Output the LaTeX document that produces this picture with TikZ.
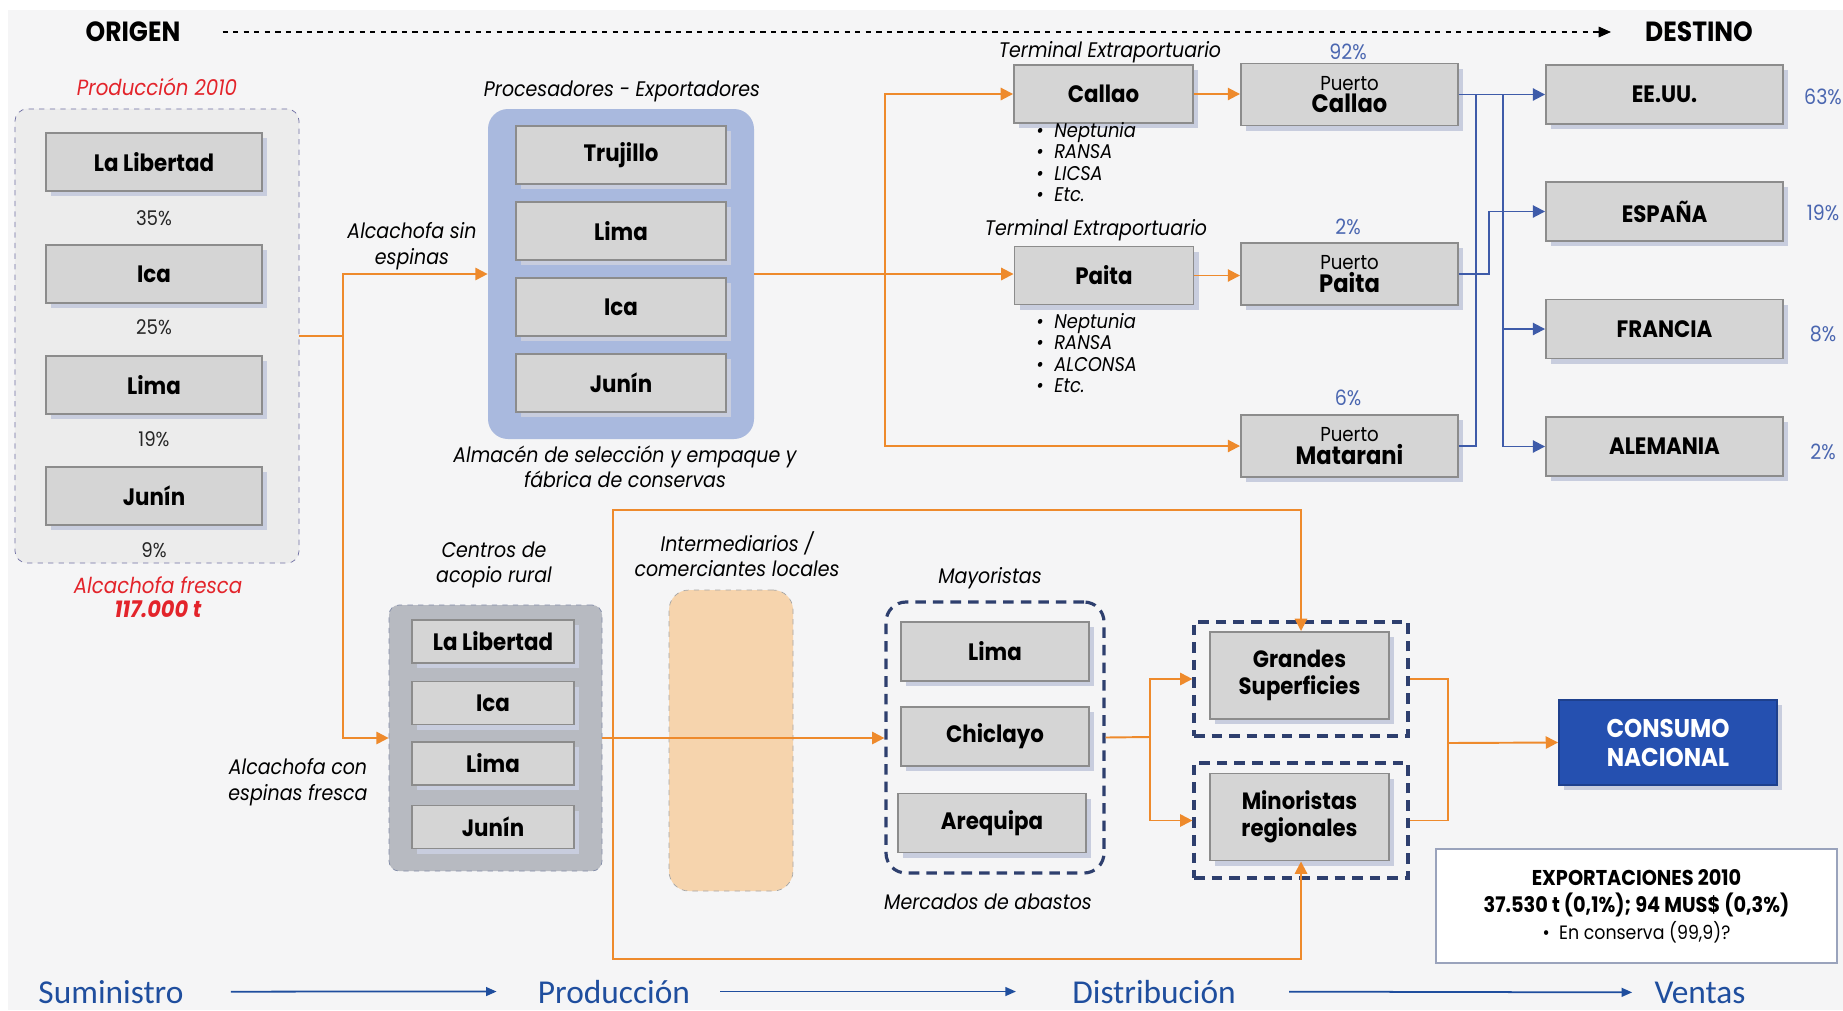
\documentclass[tikz,border=0pt]{standalone}
\usepackage{fontspec}
\setmainfont{Poppins}[FakeStretch=0.9]
\newfontfamily\stagefont{Carlito}
\usepackage{tikz}
\usepackage{xcolor}
\usetikzlibrary{positioning, arrows.meta, shadows, calc}

\definecolor{bggray}{HTML}{F5F5F6}
\definecolor{boxfill}{HTML}{D5D5D5}
\definecolor{boxline}{HTML}{8C8C8C}
\definecolor{shadowblue}{HTML}{C8CDDE}
\definecolor{orng}{HTML}{EE8A2C}
\definecolor{lblue}{HTML}{3E5BA9}
\definecolor{navy}{HTML}{2E3F6E}
\definecolor{procfill}{HTML}{A9B9DE}
\definecolor{cenfill}{HTML}{B7BAC1}
\definecolor{peach}{HTML}{F6D4AD}
\definecolor{consumo}{HTML}{2550B0}
\definecolor{redlbl}{HTML}{E3242B}
\definecolor{pctblue}{HTML}{4A66B0}
\definecolor{stageblue}{HTML}{1F4E9E}
\definecolor{exline}{HTML}{9AA3BC}

\begin{document}
\begin{tikzpicture}[
  x=0.2mm, y=-0.2mm,
  >=Stealth,
  box/.style={draw=boxline, line width=1.1pt, fill=boxfill, font=\fontsize{13.5}{15}\selectfont\bfseries, align=center, inner sep=1pt,
    drop shadow={shadow xshift=1mm, shadow yshift=-1mm, fill=shadowblue, opacity=1}},
  lft/.style={box, minimum width=43.2mm, minimum height=11.6mm},
  prc/.style={box, minimum width=42mm, minimum height=11.6mm},
  trm/.style={box, minimum width=35.8mm, minimum height=11.6mm},
  prt/.style={box, minimum width=43.4mm, minimum height=12.4mm},
  dst/.style={box, minimum width=47.4mm, minimum height=11.8mm},
  cen/.style={box, minimum width=32.4mm, minimum height=8.6mm},
  may/.style={box, minimum width=37.6mm, minimum height=11.8mm},
  ret/.style={box, minimum width=35.8mm, minimum height=17.4mm, font=\fontsize{13.4}{15.4}\selectfont\bfseries},
  grp/.style={inner sep=0pt},
  cpt/.style={font=\fontsize{12}{14.5}\selectfont\itshape, align=center},
  pct/.style={font=\fontsize{11.5}{12}\selectfont, text=black!85},
  bpct/.style={font=\fontsize{12}{12}\selectfont, text=pctblue},
  redcpt/.style={font=\fontsize{12.5}{14}\selectfont\itshape, text=redlbl, align=center},
  bullets/.style={font=\fontsize{11.3}{12.2}\selectfont\itshape, align=left, anchor=north west, inner sep=0pt},
  oline/.style={draw=orng, line width=1.1pt},
  oarrow/.style={oline, -{Triangle[length=7pt, width=7pt]}},
  bline/.style={draw=lblue, line width=1.1pt},
  barrow/.style={bline, -{Triangle[length=7pt, width=7pt]}},
  stage/.style={font=\stagefont\fontsize{19}{21}\selectfont, text=stageblue, inner sep=0pt, anchor=base},
  stagearrow/.style={draw=stageblue, line width=1pt, -{Triangle[length=6pt, width=5pt]}}
]
\useasboundingbox (0,0) rectangle (1843,1010);
\fill[bggray] (8,10) rectangle (1843,1010);

% Header
\node[font=\fontsize{15.8}{17}\selectfont\bfseries] (origen) at (133,32) {ORIGEN};
\node[font=\fontsize{15.8}{17}\selectfont\bfseries] (destino) at (1699,32) {DESTINO};
\draw[dashed, line width=0.8pt, -{Triangle[length=7pt, width=6pt]}, shorten <=7.2mm, shorten >=5.6mm] (origen) -- (destino);

% Production regions
\node[redcpt] at (157,87) {Producción 2010};
\node[grp, draw=boxline!80!blue, fill=gray!15, dashed, rounded corners=2.4mm, minimum width=56.8mm, minimum height=90.8mm] (prodgrp) at (157,336) {};
\node[lft] (pll) at (154,162) {La Libertad};
\node[lft] (pica) at (154,274) {Ica};
\node[lft] (plim) at (154,385) {Lima};
\node[lft] (pjun) at (154,496) {Junín};
\node[pct] at (154,218) {35\%};
\node[pct] at (154,327) {25\%};
\node[pct] at (154,439) {19\%};
\node[pct] at (154,550) {9\%};
\node[redcpt] at (158,585) {Alcachofa fresca};
\node[redcpt, font=\fontsize{13.2}{14}\selectfont\bfseries\itshape] at (158,609) {117.000 t};

% Processors - exporters
\node[cpt] at (622,91) {Procesadores - Exportadores};
\node[grp, fill=procfill, rounded corners=4mm, minimum width=53.2mm, minimum height=66mm] (procgrp) at (621,274) {};
\node[prc] (trujillo) at (621,155) {Trujillo};
\node[prc] (xlima) at (621,231) {Lima};
\node[prc] (xica) at (621,307) {Ica};
\node[prc] (xjunin) at (621,383) {Junín};
\node[cpt] at (625,467) {Almacén de selección y empaque y\\fábrica de conservas};
\node[cpt] at (412,246) {Alcachofa sin\\espinas};

% Terminals and ports
\node[cpt] at (1110,52) {Terminal Extraportuario};
\node[trm] (tcallao) at (1103.5,94) {Callao};
\node[cpt] at (1096,230) {Terminal Extraportuario};
\node[trm] (tpaita) at (1104,275.5) {Paita};
\node[bullets] (bulc) at (1036,122)
  {\textbullet\ \ Neptunia\\\textbullet\ \ RANSA\\\textbullet\ \ LICSA\\\textbullet\ \ Etc.};
\node[bullets] (bulp) at (1036,313)
  {\textbullet\ \ Neptunia\\\textbullet\ \ RANSA\\\textbullet\ \ ALCONSA\\\textbullet\ \ Etc.};
\node[prt] (pcallao) at (1349.5,94.5) {{\fontsize{11.5}{12}\selectfont\mdseries Puerto}\\[-2pt]{\fontsize{14.3}{15}\selectfont Callao}};
\node[prt] (ppaita) at (1349.5,274) {{\fontsize{11.5}{12}\selectfont\mdseries Puerto}\\[-2pt]{\fontsize{14.3}{15}\selectfont Paita}};
\node[prt] (pmatarani) at (1349.5,446) {{\fontsize{11.5}{12}\selectfont\mdseries Puerto}\\[-2pt]{\fontsize{14.3}{15}\selectfont Matarani}};
\node[bpct] at (1348,52) {92\%};
\node[bpct] at (1348,227) {2\%};
\node[bpct] at (1348,398) {6\%};

% Destinations
\node[dst] (eeuu) at (1664.5,94.5) {EE.UU.};
\node[dst] (espana) at (1664.5,211.5) {ESPAÑA};
\node[dst] (francia) at (1664.5,329) {FRANCIA};
\node[dst] (alemania) at (1664.5,446.5) {ALEMANIA};
\node[bpct] at (1823,97) {63\%};
\node[bpct] at (1823,213) {19\%};
\node[bpct] at (1823,334) {8\%};
\node[bpct] at (1823,452) {2\%};

% Rural collection centres
\node[cpt] at (494,565) {Centros de\\acopio rural};
\node[grp, draw=navy!60, fill=cenfill, dashed, rounded corners=2mm, minimum width=42.6mm, minimum height=53.2mm] (cengrp) at (495.5,738) {};
\node[cen] (cll) at (493,641.5) {La Libertad};
\node[cen] (cica) at (493,703) {Ica};
\node[cen] (clim) at (493,763.5) {Lima};
\node[cen] (cjun) at (493,827) {Junín};
\node[cpt] at (298,782) {Alcachofa con\\espinas fresca};

% Intermediaries
\node[cpt] at (737,554) {Intermediarios /\\comerciantes locales};
\node[grp, draw=gray!70, fill=peach, dashed, rounded corners=4mm, minimum width=24.8mm, minimum height=60.2mm] (inter) at (731,740.5) {};

% Wholesalers
\node[cpt] at (990,578) {Mayoristas};
\node[grp, draw=navy, line width=1.8pt, dash pattern=on 6pt off 4pt, rounded corners=4mm, minimum width=43.6mm, minimum height=54.2mm] (maygrp) at (995,737.5) {};
\node[may] (mlima) at (995,651.5) {Lima};
\node[may] (mchic) at (995,736.5) {Chiclayo};
\node[may] (mareq) at (992,823) {Arequipa};
\node[cpt] at (988,902) {Mercados de abastos};

% Retail
\node[grp, draw=navy, line width=1.8pt, dash pattern=on 6pt off 4pt, minimum width=42.8mm, minimum height=22.8mm] (gsupgrp) at (1301,679) {};
\node[ret] (gsup) at (1299.5,675.5) {Grandes\\Superficies};
\node[grp, draw=navy, line width=1.8pt, dash pattern=on 6pt off 4pt, minimum width=42.8mm, minimum height=23mm] (minogrp) at (1301,820.5) {};
\node[ret] (mino) at (1299.5,817) {Minoristas\\regionales};
\node[box, fill=consumo, draw=consumo!80!black, text=white, font=\fontsize{14.6}{16.5}\selectfont\bfseries, minimum width=43.6mm, minimum height=17mm] (consumo) at (1668,742.5) {CONSUMO\\NACIONAL};
\node[draw=exline, line width=1pt, fill=white, align=center, minimum width=80.2mm, minimum height=22.8mm, font=\fontsize{12.2}{15.4}\selectfont] (export) at (1636.5,906)
  {\textbf{EXPORTACIONES 2010}\\\textbf{37.530 t (0,1\%); 94 MUS\$ (0,3\%)}\\{\fontsize{11}{12}\selectfont\textbullet\ \ En conserva (99,9)?}};

% Orange flows
\coordinate (splitL) at (343,336);
\draw[oline] (prodgrp.east) -- (splitL);
\draw[oarrow] (splitL) |- (procgrp.west);
\draw[oarrow] (splitL) |- (cengrp.west);
\coordinate (splitP) at (885,274);
\draw[oline] (procgrp.east) -- (splitP);
\draw[oarrow] (splitP) |- (tcallao.west);
\draw[oarrow] (splitP) -- (splitP -| tpaita.west);
\draw[oarrow] (splitP) |- (pmatarani.west);
\draw[oarrow] (tcallao.east) -- (tcallao.east -| pcallao.west);
\draw[oarrow] (tpaita.east) -- (tpaita.east -| ppaita.west);
\draw[oarrow] (cengrp.east) -- (cengrp.east -| maygrp.west);
\coordinate (splitC) at (613,738);
\coordinate (frameT) at (1301,510);
\coordinate (frameB) at (1301,959);
\draw[oarrow] (splitC) |- (frameT) -- (frameT |- gsup.north);
\draw[oarrow] (splitC) |- (frameB) -- (frameB |- mino.south);
\coordinate (splitM) at (1150,737);
\draw[oline] (maygrp.east) -- (splitM);
\draw[oarrow] (splitM) |- (gsupgrp.west);
\draw[oarrow] (splitM) |- (minogrp.west);
\coordinate (joinR) at (1448,743);
\draw[oline] (gsupgrp.east) -| (joinR);
\draw[oline] (minogrp.east) -| (joinR);
\draw[oarrow] (joinR) -- (consumo.west);

% Blue export flows
\coordinate (busA) at (1476,94.5);
\coordinate (busB) at (1503,94.5);
\coordinate (busC) at (1489,274);
\draw[barrow] (pcallao.east) -- (eeuu.west);
\draw[bline] (pmatarani.east) -| (busA);
\draw[barrow] (busB) |- (alemania.west);
\draw[barrow] (busB |- francia.west) -- (francia.west);
\draw[barrow] (ppaita.east) -- (busC) |- (espana.west);

% Stages
\node[stage] (sumi) at (111,1003) {Suministro};
\node[stage] (produ) at (614,1003) {Producción};
\node[stage] (distr) at (1154,1003) {Distribución};
\node[stage] (venta) at (1700,1003) {Ventas};
\draw[stagearrow, shorten <=9.4mm, shorten >=8.2mm] (sumi.east) -- (produ.west);
\draw[stagearrow, shorten <=6mm, shorten >=11.2mm] (produ.east) -- (distr.west);
\draw[stagearrow, shorten <=10.6mm, shorten >=4.4mm] (distr.east) -- (venta.west);
\end{tikzpicture}
\end{document}
